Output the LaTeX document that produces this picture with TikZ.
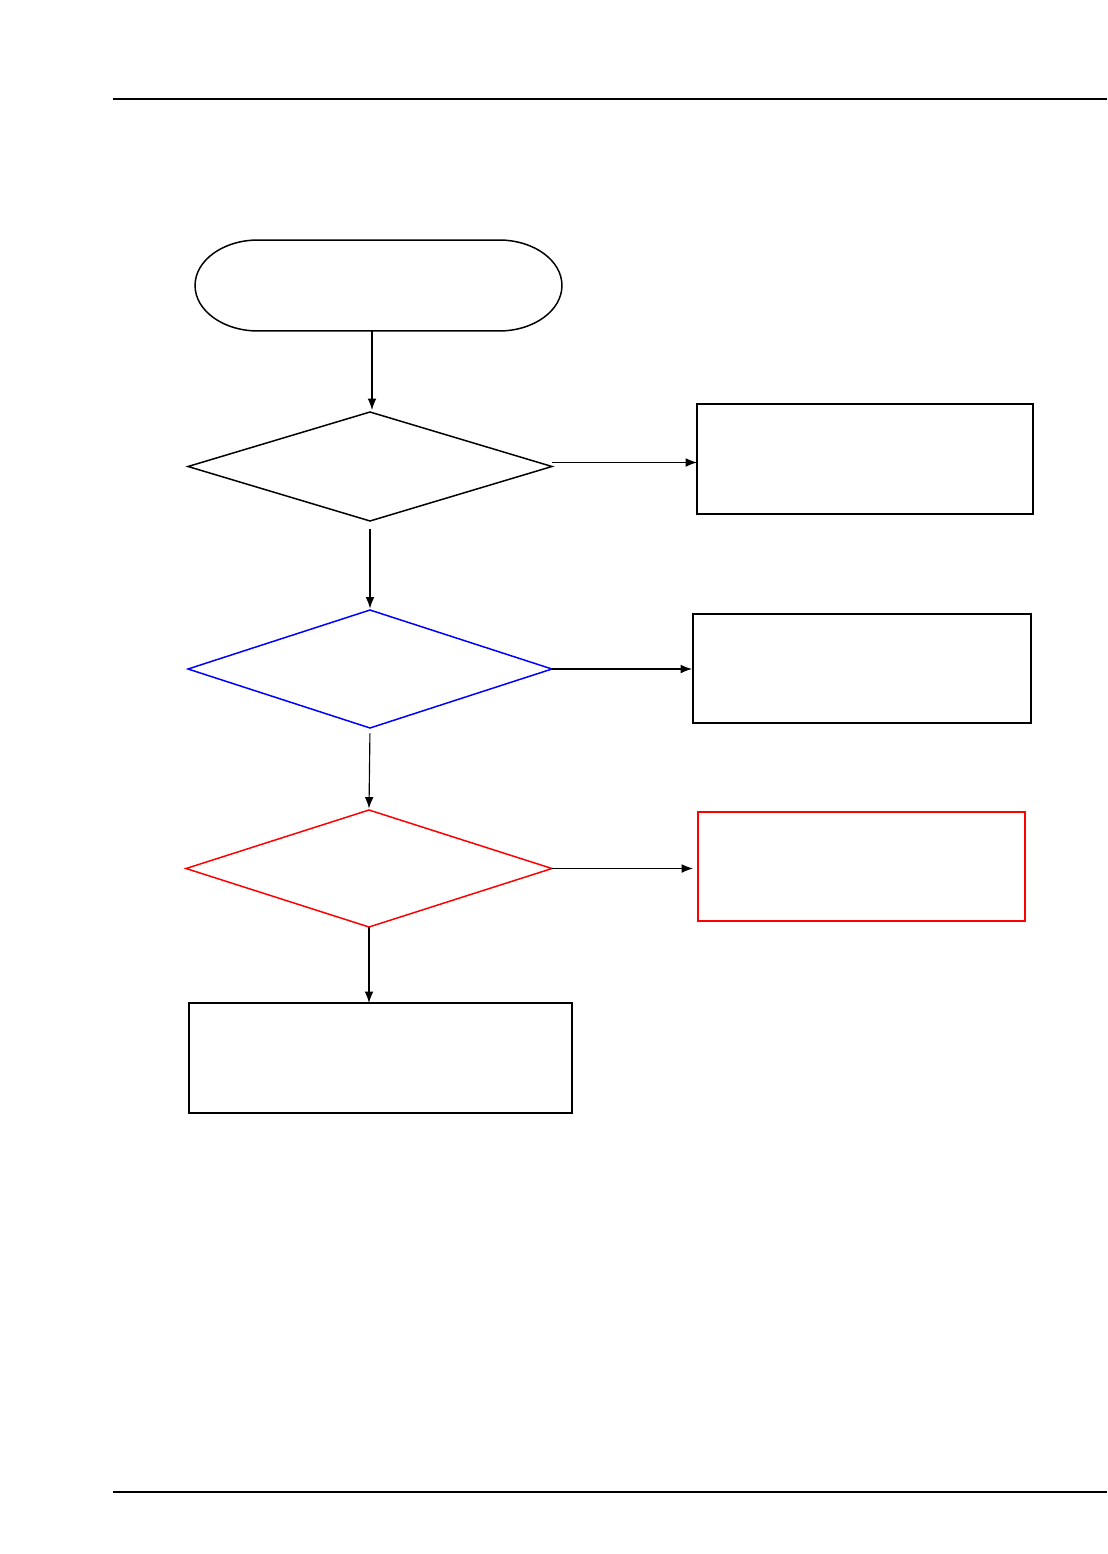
\documentclass[tikz,border=0pt]{standalone}
\usepackage{tikz}
\usetikzlibrary{shapes,arrows.meta}
\tikzstyle{block} = [rectangle, draw, line width=0.85pt, inner sep=0pt, outer sep=0pt]
\tikzstyle{decision} = [diamond, draw, line width=0.85pt, inner sep=0pt, outer sep=0pt]
\tikzstyle{term} = [rectangle, inner sep=0pt, outer sep=0pt, minimum width=7.34cm, minimum height=1.82cm]
\tikzstyle{rule} = [draw, line width=0.7pt]
\tikzstyle{line} = [draw, line width=0.65pt, -{Latex[length=6.5pt, width=5pt]}]

\begin{document}
\begin{tikzpicture}[x=0.02cm, y=-0.02cm]
\useasboundingbox (0, 0) rectangle (1107, 1554);

% page rules
\coordinate (topL) at (113, 99);
\coordinate (topR) at (1107, 99);
\coordinate (botL) at (113, 1492);
\coordinate (botR) at (1107, 1492);
\path [rule] (topL) -- (topR);
\path [rule] (botL) -- (botR);

% start
\node [term] at (378.5, 285.5) (start) {};
\draw [line width=0.85pt] ([xshift=1.26cm]start.north west) -- ([xshift=-1.26cm]start.north east)
  arc [start angle=90, end angle=-90, x radius=1.26cm, y radius=0.91cm]
  -- ([xshift=1.26cm]start.south west)
  arc [start angle=270, end angle=90, x radius=1.26cm, y radius=0.91cm] -- cycle;

% checks
\node [decision, minimum width=7.28cm, minimum height=2.18cm] at (370, 466.5) (check1) {};
\node [decision, draw=blue, minimum width=7.28cm, minimum height=2.36cm] at (370, 669) (check2) {};
\node [decision, draw=red, minimum width=7.32cm, minimum height=2.34cm] at (369, 868.5) (check3) {};

% results
\node [block, minimum width=6.72cm, minimum height=2.2cm] at (865, 459) (res1) {};
\node [block, minimum width=6.76cm, minimum height=2.18cm] at (862, 668.5) (res2) {};
\node [block, draw=red, minimum width=6.54cm, minimum height=2.18cm] at (861.5, 866.5) (res3) {};
\node [block, minimum width=7.66cm, minimum height=2.2cm] at (380.5, 1058) (res4) {};

% arrows
\path [line] ([xshift=0.04cm]start.south -| check1.north) to ([xshift=0.04cm, yshift=0.04cm]check1.north);
\path [line, shorten <=4.5pt] (check1.south) to ([yshift=0.03cm]check2.north);
\path [line, shorten <=3pt] (check2.south) to ([yshift=0.03cm]check3.north);
\path [line] (check3.south) to (res4.north -| check3.south);
\path [line] ([yshift=0.08cm]check1.east) to ([yshift=0.08cm]check1.east -| res1.west);
\path [line] (check2.east) to ([xshift=-0.02cm]check2.east -| res2.west);
\path [line] (check3.east) to ([xshift=-0.1cm]check3.east -| res3.west);

\end{tikzpicture}
\end{document}
